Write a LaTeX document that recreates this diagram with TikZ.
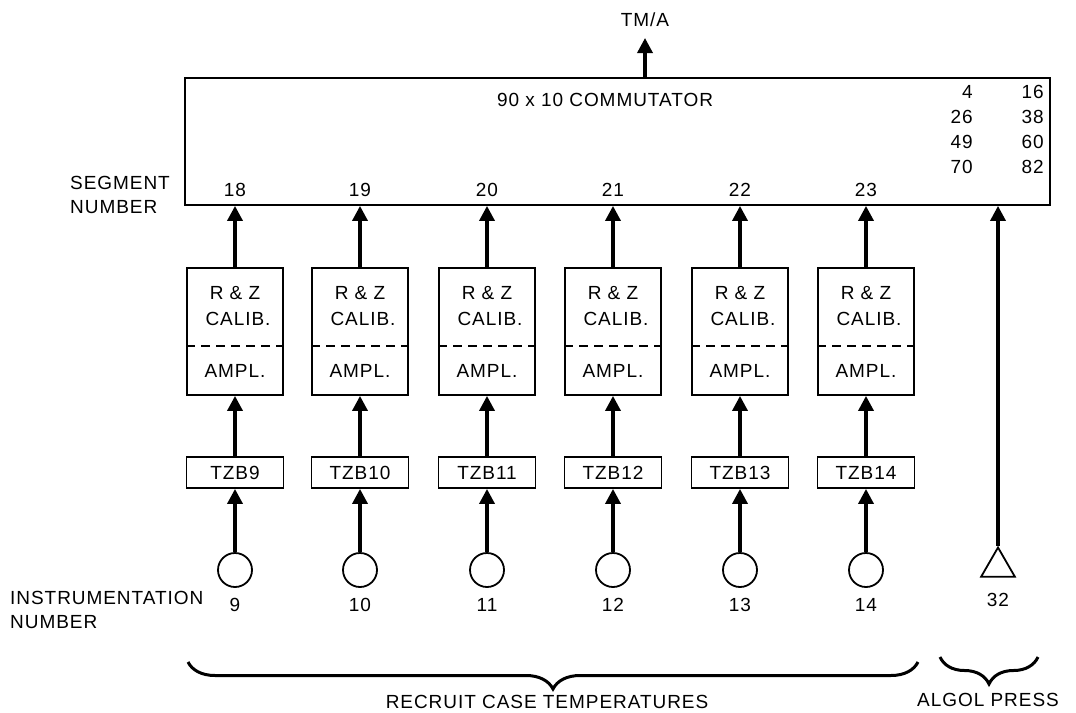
\documentclass[tikz,border=0pt]{standalone}
\usepackage{fontspec}
\setmainfont[LetterSpace=5]{Liberation Sans}
\usetikzlibrary{arrows.meta,shapes.geometric,decorations.pathreplacing}
\tikzset{
  blk/.style={draw,line width=1.8pt,inner sep=0pt},
  sig/.style={line width=3.4pt,-{Triangle[width=15pt,length=15pt]}},
  lbl/.style={font=\fontsize{19}{24}\selectfont,inner sep=0pt},
  brc/.style={line width=3pt,decorate,decoration={brace,mirror,amplitude=27pt}},
}
\begin{document}
\begin{tikzpicture}[x=1pt,y=-1pt]
  \useasboundingbox (0,0) rectangle (1076,712);

  % commutator
  \node[blk,minimum width=865pt,minimum height=127pt] (comm) at (617.5,141.5) {};
  \node[lbl] (commtxt) at (605,100) {90 x 10 COMMUTATOR};
  \node[lbl] (tm) at (645,20) {TM/A};
  \coordinate (tmtip) at (645,38);
  \draw[sig] (comm.north -| tmtip) -- (tmtip);

  \foreach \a/\b/\y in {4/16/92,26/38/117,49/60/142,70/82/167} {
    \node[lbl,anchor=east] (l\a) at (973,\y) {\a};
    \node[lbl,anchor=east] (r\b) at (1044,\y) {\b};
  }

  \node[lbl,anchor=west,align=left] (segtxt) at (70,195) {SEGMENT\\NUMBER};
  \node[lbl,anchor=west,align=left] (insttxt) at (10,610) {INSTRUMENTATION\\NUMBER};

  % temperature channels
  \foreach \n/\x/\seg in {9/235/18,10/360/19,11/487/20,12/613/21,13/740/22,14/866/23} {
    \node[blk,minimum width=96pt,minimum height=127pt] (cal\n) at (\x,331.5) {};
    \node[lbl] (rz\n) at (\x,293) {R \& Z};
    \node[lbl] (cb\n) at (\x+3,319) {CALIB.};
    \node[lbl] (am\n) at (\x,371) {AMPL.};
    \draw[line width=1.8pt,dash pattern=on 9pt off 6pt]
      (cal\n.west |- 0,346) -- (cal\n.east |- 0,346);
    \node[blk,lbl,minimum width=97pt,minimum height=31pt] (tzb\n) at (\x,472.5) {TZB\n};
    \node[blk,circle,minimum size=34pt] (th\n) at (\x,570) {};
    \node[lbl] (in\n) at (\x,605) {\n};
    \node[lbl] (sg\n) at (\x,190) {\seg};
    \draw[sig] (th\n) -- (tzb\n);
    \draw[sig] (tzb\n) -- (cal\n);
    \draw[sig] (cal\n) -- (cal\n.north |- comm.south);
  }

  % pressure channel
  \node[blk,regular polygon,regular polygon sides=3,minimum size=39pt] (tri32) at (998,567) {};
  \node[lbl] (in32) at (998,600) {32};
  \draw[sig] (tri32.corner 1) -- (tri32.corner 1 |- comm.south);

  % groups
  \draw[brc] (188,662) -- (918,662);
  \node[lbl] (rct) at (547,702) {RECRUIT CASE TEMPERATURES};
  \draw[brc] (940,657) -- (1038,657);
  \node[lbl] (alg) at (988,700) {ALGOL PRESS};
\end{tikzpicture}
\end{document}
